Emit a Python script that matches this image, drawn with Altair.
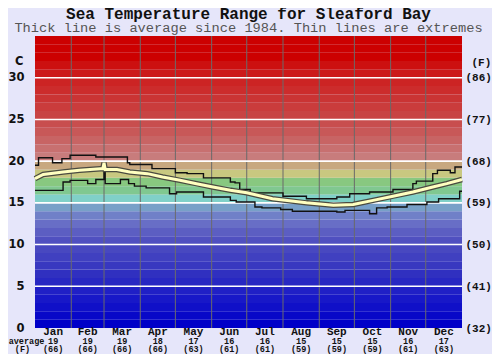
import altair as alt
import pandas as pd

# ---------------- data ----------------
title_text = "Sea Temperature Range for Sleaford Bay"
subtitle_text = "Thick line is average since 1984. Thin lines are extremes"

months = ["Jan", "Feb", "Mar", "Apr", "May", "Jun", "Jul", "Aug", "Sep", "Oct", "Nov", "Dec"]
month_mid_day = [15.5, 45, 74.5, 105, 135.5, 166, 196.5, 227.5, 258, 288.5, 319, 349.5]
month_avg_c = ["19", "19", "19", "18", "17", "16", "16", "15", "15", "15", "16", "17"]
month_avg_f = ["(66)", "(66)", "(66)", "(66)", "(63)", "(61)", "(61)", "(59)", "(59)", "(59)", "(61)", "(63)"]
month_edges = [31, 59, 90, 120, 151, 181, 212, 243, 273, 304, 334]

grid_temps = [5, 10, 15, 20, 25, 30]
axis_temps = [0, 5, 10, 15, 20, 25, 30]

# average (thick line): day of year, deg C
avg_day = [0, 7, 24, 38, 56, 58, 59, 60, 70, 81, 96, 109, 124, 138, 152, 167, 181,
           203, 232, 255, 272, 289, 306, 323, 340, 352, 365]
avg_temp = [17.9, 18.4, 18.7, 18.9, 19.1, 19.1, 19.8, 19.0, 19.0, 18.7, 18.5, 18.1, 17.7,
            17.3, 16.9, 16.5, 16.2, 15.5, 15.0, 14.7, 14.8, 15.3, 15.8, 16.3, 16.9, 17.3, 17.8]

# highest recorded (thin upper line), step changes
max_day = [0, 3, 15, 23, 30, 52, 79, 81, 100, 120, 130, 144, 167, 171, 175, 184,
           212, 232, 258, 269, 286, 306, 323, 326, 340, 344, 355, 359, 365]
max_temp = [19.5, 20.4, 19.8, 20.3, 20.7, 20.5, 19.8, 19.6, 19.1, 18.6, 18.5, 18.0, 17.5,
            17.4, 16.6, 16.2, 15.8, 15.5, 15.7, 16.1, 16.3, 16.6, 17.3, 17.6, 18.5, 18.9,
            18.6, 19.3, 19.3]

# lowest recorded (thin lower line), step changes
min_day = [0, 24, 30, 45, 52, 59, 60, 73, 80, 85, 95, 115, 121, 144, 167, 172, 188,
           194, 210, 220, 258, 265, 286, 292, 301, 318, 335, 345, 363, 365]
min_temp = [16.5, 17.5, 17.7, 17.3, 17.8, 19.3, 17.3, 17.8, 17.3, 17.0, 16.8, 16.1, 16.3,
            15.7, 15.3, 15.1, 14.5, 14.4, 14.2, 14.0, 13.9, 14.1, 13.7, 14.4, 14.5, 14.8,
            15.1, 15.5, 16.4, 16.4]

# ---------------- styling ----------------
band_colors = [
    "#0000c8", "#0808c8", "#1010c8", "#1818c8", "#2020c6",
    "#2828c2", "#3030c0", "#3838c0", "#4040c0", "#4848c0",
    "#5050c0", "#5c5ec2", "#686ec6", "#7080c8", "#78a0c8",
    "#80d0c8", "#80c890", "#88c880", "#c8c880", "#c8a880",
    "#c87c7c", "#c87070", "#c86464", "#c85858", "#c84e4e",
    "#c84444", "#ca3c3c", "#ca3434", "#cc2c2c", "#cc2424",
    "#cc1a1a", "#cc1010", "#cc0000", "#cc0000", "#cc0000",
]

W, H = 427, 292
MONO = "Liberation Mono"
SANS = "DejaVu Sans"

x_scale = alt.Scale(domain=[0, 365], nice=False, zero=False)
y_scale = alt.Scale(domain=[0, 35], nice=False)

bands = pd.DataFrame({
    "lo": list(range(35)),
    "hi": [v + 1 for v in range(35)],
    "col": band_colors,
})

band_layer = alt.Chart(bands).mark_rect().encode(
    x=alt.datum(0, scale=x_scale, axis=None),
    x2=alt.datum(365),
    y=alt.Y("lo:Q", scale=y_scale, axis=alt.Axis(
        values=axis_temps, title="C", titleAngle=0, titleX=-12, titleY=25.5,
        titleAlign="right", titleBaseline="middle", titleFont=SANS, titleFontSize=11.5,
        titleFontWeight="bold", titleColor="#111",
        labelFont=SANS, labelFontSize=11.5, labelFontWeight="bold", labelColor="#111",
        ticks=False, tickSize=0, domain=False, grid=False, labelPadding=11)),
    y2="hi:Q",
    color=alt.Color("col:N", scale=None),
)

vrules = alt.Chart(pd.DataFrame({"d": month_edges})).mark_rule(
    color="#6a6a6a", strokeWidth=1).encode(
    x=alt.X("d:Q", scale=x_scale, axis=None),
)

hrules = alt.Chart(pd.DataFrame({"t": grid_temps})).mark_rule(
    color="white", strokeWidth=1.6).encode(
    y=alt.Y("t:Q", scale=y_scale, axis=alt.Axis(
        orient="right", values=axis_temps,
        labelExpr="'(' + round(datum.value * 9 / 5 + 32) + ')'",
        title="(F)", titleAngle=0, titleX=9, titleY=26.5, titleAlign="left",
        titleBaseline="middle", titleFont=MONO, titleFontSize=11,
        titleFontWeight="bold", titleColor="#111",
        labelFont=MONO, labelFontSize=11, labelFontWeight="bold", labelColor="#111",
        ticks=False, tickSize=0, domain=False, grid=False, labelPadding=3)),
)

avg_df = pd.DataFrame({"day": avg_day, "temp": avg_temp})
max_df = pd.DataFrame({"day": max_day, "temp": max_temp})
min_df = pd.DataFrame({"day": min_day, "temp": min_temp})


def line(df, **kw):
    return alt.Chart(df).mark_line(**kw).encode(
        x=alt.X("day:Q", scale=x_scale, axis=None),
        y=alt.Y("temp:Q", scale=y_scale, axis=None),
    )


max_line = line(max_df, color="#111", strokeWidth=1.4, interpolate="step-after")
min_line = line(min_df, color="#111", strokeWidth=1.4, interpolate="step-after")
avg_outer = line(avg_df, color="#4a4a40", strokeWidth=5.5)
avg_inner = line(avg_df, color="#ffffc0", strokeWidth=3)

mdf = pd.DataFrame({"m": months, "mid": month_mid_day, "c": month_avg_c, "f": month_avg_f})


def row(field, ypos, size):
    return alt.Chart(mdf).mark_text(
        font=MONO, fontSize=size, fontWeight="bold", color="#111",
        align="center", baseline="middle").encode(
        x=alt.X("mid:Q", scale=x_scale, axis=None),
        y=alt.value(ypos),
        text=f"{field}:N",
    )


month_row = row("m", 295.5, 11)
c_row = row("c", 304.5, 8.5)
f_row = row("f", 313.3, 8.5)

side = pd.DataFrame({"t": ["average", "(F)"], "yy": [304.5, 313.3], "xx": [-8.5, -12.5]})
side_text = alt.Chart(side).mark_text(
    font=MONO, fontSize=8.5, fontWeight="bold", color="#111",
    align="center", baseline="middle").encode(
    x=alt.X("xx:Q", scale=None), y=alt.Y("yy:Q", scale=None), text="t:N")

titles = pd.DataFrame({"t": [title_text, subtitle_text], "yy": [-17.5, -4]})
title_mark = alt.Chart(titles.iloc[[0]]).mark_text(
    font=MONO, fontSize=16, fontWeight="bold", color="#111",
    align="center", baseline="alphabetic").encode(
    x=alt.value(W / 2), y=alt.Y("yy:Q", scale=None), text="t:N")
subtitle_mark = alt.Chart(titles.iloc[[1]]).mark_text(
    font=MONO, fontSize=13.7, color="#555",
    align="center", baseline="alphabetic").encode(
    x=alt.value(W / 2), y=alt.Y("yy:Q", scale=None), text="t:N")

chart = alt.layer(
    band_layer, vrules, hrules, max_line, min_line, avg_outer, avg_inner,
    month_row, c_row, f_row, side_text, title_mark, subtitle_mark,
).resolve_axis(y="independent").properties(
    width=W, height=H,
    padding={"left": 27, "top": 28, "right": 30, "bottom": 26},
    autosize=alt.AutoSizeParams(type="none"),
    background="#e6e6fa",
).configure_view(stroke=None)

chart.save("out.html", embed_options={"renderer": "svg", "actions": False})
